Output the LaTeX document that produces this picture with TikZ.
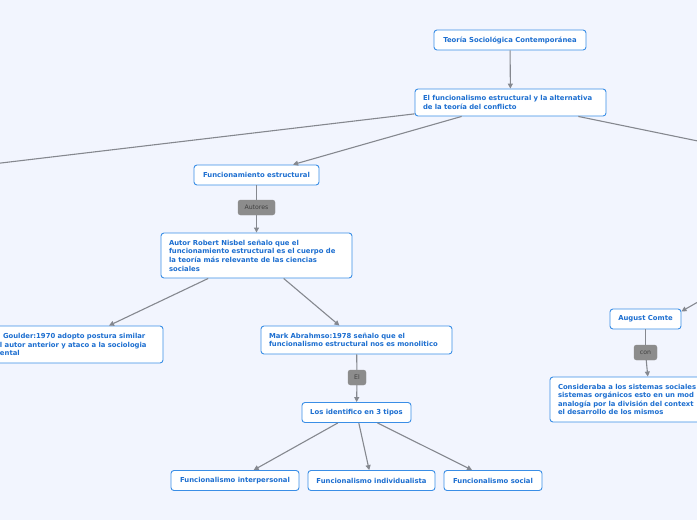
\documentclass[tikz,border=0pt]{standalone}
\usepackage{fontspec}
\newfontfamily\mmfont{DejaVu Sans}
\usetikzlibrary{arrows.meta}
\definecolor{mmBack}{HTML}{F2F5FE}
\definecolor{mmBlue}{HTML}{3A8EE6}
\definecolor{mmText}{HTML}{1C6ED0}
\definecolor{mmLine}{HTML}{85888F}
\definecolor{mmTag}{HTML}{8C8C8C}
\definecolor{mmTagText}{HTML}{404040}
\tikzset{
  mm topic/.style={draw=mmBlue, fill=white, line width=0.9pt, rounded corners=3pt, font=\mmfont\bfseries\fontsize{6.85}{8.6}\selectfont, text=mmText, inner sep=0pt, minimum height=20pt},
  mm text/.style={mm topic, align=left, inner xsep=8pt, inner ysep=4pt},
  mm tag/.style={fill=mmTag, draw=mmTag, rounded corners=2.5pt, font=\mmfont\fontsize{6.2}{7}\selectfont, text=mmTagText, inner sep=0pt, minimum height=15pt},
  mm link/.style={draw=mmLine, line width=1.1pt},
  mm arrow/.style={mm link, -{Triangle[length=5pt,width=5pt]}},
}

\begin{document}
\begin{tikzpicture}[x=1pt, y=-1pt]
  % page size, background and clip
  \useasboundingbox (0,0) rectangle (697,520);
  \fill[mmBack] (0,0) rectangle (697,520);
  \clip (0,0) rectangle (697,520);

  % main branch
  \node[mm topic, minimum width=152pt] (teoria) at (510,40) {Teoría Sociológica Contemporánea};
  \node[mm text, text width=175pt, minimum height=27pt] (alterna) at (510.5,102.5) {El funcionalismo estructural y la alternativa\\de la teoría del conflicto};
  \node[mm topic, minimum width=125pt] (funcest) at (256.5,175) {Funcionamiento estructural};
  \node[mm tag, minimum width=37pt] (autores) at (256.5,207.5) {Autores};
  \node[mm text, text width=175pt, minimum height=45pt] (nisbet) at (256.5,255.5) {Autor Robert Nisbel señalo que el\\funcionamiento estructural es el cuerpo de\\la teoría más relevante de las ciencias\\sociales};
  \node[mm text, text width=155pt, minimum height=37pt] (gouldner) at (77.5,344.5) {\hspace*{3pt}Goulder:1970 adopto postura similar\\l autor anterior y ataco a la sociologia\\ental};
  \node[mm text, text width=175pt, minimum height=28pt] (mark) at (356.5,340) {Mark Abrahmso:1978 señalo que el\\funcionalismo estructural nos es monolitico};
  \node[mm tag, minimum width=18pt] (el) at (357,377.5) {El};
  \node[mm topic, minimum width=109pt] (tipos) at (356.5,412.5) {Los identifico en 3 tipos};

  % the three kinds
  \node[mm topic, minimum width=128pt] (inter) at (235,480.5) {Funcionalismo interpersonal};
  \node[mm topic, minimum width=127pt] (indiv) at (371.5,480.5) {Funcionalismo individualista};
  \node[mm topic, minimum width=98pt] (social) at (493,480.5) {Funcionalismo social};

  % right branch
  \node[mm topic, minimum width=71pt] (comte) at (645.5,319) {August Comte};
  \node[mm tag, minimum width=23pt] (con) at (645.5,352.5) {con};
  \node[mm text, text width=184pt, minimum height=45pt] (considera) at (650,399.5) {Consideraba a los sistemas sociales\\sistemas orgánicos esto en un mod\\analogía por la división del context\\el desarrollo de los mismos};

  % ends that leave the page
  \coordinate (offizq) at (-100,175);
  \coordinate (offder) at (800,162);
  \coordinate (offcomte) at (760,266.6);

  % connectors
  \draw[mm arrow] (teoria) -- (alterna);
  \draw[mm link] (alterna) -- (offizq);
  \draw[mm link] (alterna) -- (offder);
  \draw[mm arrow] (alterna) -- (funcest);
  \draw[mm link] (funcest) -- (autores);
  \draw[mm arrow] (autores) -- (nisbet);
  \draw[mm arrow] (nisbet) -- (gouldner.31);
  \draw[mm arrow] (nisbet) -- (mark);
  \draw[mm link] (mark) -- (el);
  \draw[mm arrow] (el) -- (tipos);
  \draw[mm arrow] (tipos) -- (inter);
  \draw[mm arrow] (tipos) -- (indiv);
  \draw[mm arrow] (tipos) -- (social);
  \draw[mm arrow] (offcomte) -- (comte.12);
  \draw[mm link] (comte) -- (con);
  \draw[mm arrow] (con) -- (considera);
\end{tikzpicture}
\end{document}
